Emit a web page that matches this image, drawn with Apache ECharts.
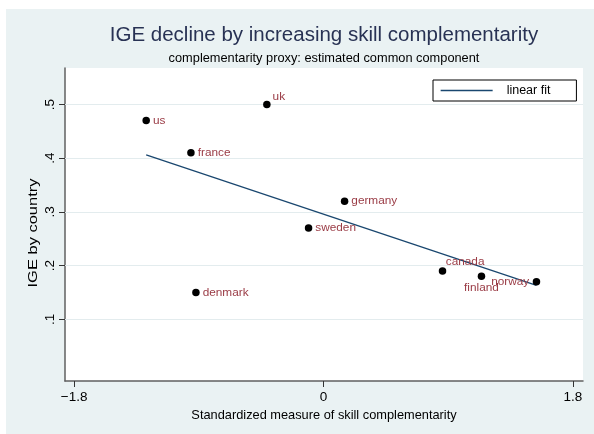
<!DOCTYPE html>
<html>
<head>
<meta charset="utf-8">
<script src="https://cdn.jsdelivr.net/npm/echarts@6/dist/echarts.min.js"></script>
<style>
  html, body { margin: 0; padding: 0; background: #fff; }
  #wrap { position: relative; width: 594px; height: 434px; }
  #back { position: absolute; left: 6px; top: 9px; right: 0; bottom: 0; background: #EAF2F3; }
  #chart { position: absolute; left: 0; top: 0; width: 594px; height: 434px; }
</style>
</head>
<body>
<div id="wrap"><div id="back"></div><div id="chart"></div></div>
<script>
// Countries, standardized skill-complementarity measure and intergenerational elasticity
const countries = ['us', 'uk', 'france', 'germany', 'sweden', 'denmark', 'canada', 'finland', 'norway'];
const complementarity = [-1.280, -0.409, -0.957, 0.152, -0.108, -0.921, 0.859, 1.140, 1.537];
const ige = [0.47, 0.50, 0.41, 0.32, 0.27, 0.15, 0.19, 0.18, 0.17];

// Endpoints of the fitted regression line
const fitX = [-1.280, 1.537];
const fitY = [0.406, 0.163];

// Axis ticks and their labels
const xTicks = [-1.8, 0, 1.8];
const xTickText = ['\u22121.8', '0', '1.8'];
const yTicks = [0.1, 0.2, 0.3, 0.4, 0.5];
const yTickText = ['.1', '.2', '.3', '.4', '.5'];

const FONT = '"Liberation Sans", Arial, Helvetica, sans-serif';
const labelColor = '#9a3b45';
const fitColor = '#1A476F';

// Label placement for marker labels that do not sit to the right
const labelPlacement = {
  uk: { position: 'right', offset: [-1, -7.5] },
  canada: { position: 'right', offset: [-3.5, -8.7] },
  finland: { position: 'bottom', offset: [0, -1.5] },
  norway: { position: 'left', distance: 3.5 }
};

function tickText(values, texts, v) {
  for (let i = 0; i < values.length; i++) {
    if (Math.abs(values[i] - v) < 1e-9) return texts[i];
  }
  return '';
}

const points = countries.map((c, i) => {
  const item = { name: c, value: [complementarity[i], ige[i]] };
  if (labelPlacement[c]) item.label = labelPlacement[c];
  return item;
});

const fitData = fitX.map((x, i) => [x, fitY[i]]);

const chart = echarts.init(document.getElementById('chart'), null, { renderer: 'canvas' });

chart.setOption({
  animation: false,
  backgroundColor: 'transparent',
  textStyle: { fontFamily: FONT },
  graphic: [
    {
      type: 'text', x: 324, y: 35, silent: true,
      style: {
        text: 'IGE decline by increasing skill complementarity',
        font: '20.5px ' + FONT, fill: '#283254',
        align: 'center', verticalAlign: 'middle',
        textAlign: 'center', textVerticalAlign: 'middle'
      }
    },
    {
      type: 'text', x: 324, y: 58, silent: true,
      style: {
        text: 'complementarity proxy: estimated common component',
        font: '12.8px ' + FONT, fill: '#000',
        align: 'center', verticalAlign: 'middle',
        textAlign: 'center', textVerticalAlign: 'middle'
      }
    },
    {
      // y axis title, widened along its reading direction
      type: 'text', x: 33, y: 233, rotation: Math.PI / 2, scaleX: 1.22, silent: true,
      style: {
        text: 'IGE by country',
        font: '13.5px ' + FONT, fill: '#000',
        align: 'center', verticalAlign: 'middle',
        textAlign: 'center', textVerticalAlign: 'middle'
      }
    }
  ],
  grid: {
    left: 65, right: 11, top: 68, bottom: 53,
    show: true, backgroundColor: '#ffffff', borderWidth: 0
  },
  legend: {
    data: ['linear fit'],
    left: 433, top: 80,
    padding: [4, 26, 4, 7],
    itemWidth: 52, itemHeight: 13,
    backgroundColor: '#ffffff',
    borderColor: '#000000', borderWidth: 1, borderRadius: 0,
    selectedMode: false,
    itemStyle: { opacity: 0 },
    lineStyle: { color: fitColor, width: 1.3, opacity: 1 },
    textStyle: { fontSize: 12.5, color: '#000', fontFamily: FONT, padding: [0, 0, 0, 9] }
  },
  xAxis: {
    type: 'value',
    min: -1.866, max: 1.873,
    name: 'Standardized measure of skill complementarity',
    nameLocation: 'middle', nameGap: 25,
    nameTextStyle: { fontSize: 12.8, color: '#000', fontFamily: FONT },
    axisLine: { show: true, onZero: false, lineStyle: { color: '#606060', width: 1.5 } },
    axisTick: { show: true, customValues: xTicks, length: 6, lineStyle: { color: '#333', width: 1 } },
    axisLabel: {
      customValues: xTicks, margin: 9, fontSize: 13.5, color: '#000', fontFamily: FONT,
      formatter: v => tickText(xTicks, xTickText, v)
    },
    splitLine: { show: false }
  },
  yAxis: {
    type: 'value',
    min: -0.015, max: 0.568,
    axisLine: { show: true, onZero: false, lineStyle: { color: '#606060', width: 1.5 } },
    axisTick: { show: true, customValues: yTicks, length: 6, lineStyle: { color: '#333', width: 1 } },
    axisLabel: {
      customValues: yTicks, rotate: 90, margin: 8, fontSize: 13.5, color: '#000', fontFamily: FONT,
      formatter: v => tickText(yTicks, yTickText, v)
    },
    splitLine: { show: false }
  },
  series: [
    {
      // horizontal grid lines at the labelled y ticks
      name: 'grid lines', type: 'line', data: [], z: 1, silent: true,
      markLine: {
        silent: true, z: 1, symbol: ['none', 'none'], label: { show: false },
        lineStyle: { color: '#E3ECEE', type: 'solid', width: 1 },
        emphasis: { disabled: true },
        data: yTicks.map(v => ({ yAxis: v }))
      }
    },
    {
      name: 'linear fit', type: 'line', data: fitData, z: 3,
      symbol: 'none', showSymbol: false,
      lineStyle: { color: fitColor, width: 1.3 },
      itemStyle: { color: fitColor }
    },
    {
      name: 'IGE by country', type: 'scatter', data: points, z: 4,
      symbol: 'circle', symbolSize: 7.5,
      itemStyle: { color: '#000', opacity: 1 },
      label: {
        show: true, position: 'right', distance: 3,
        formatter: p => p.name,
        color: labelColor, fontSize: 11.8, fontFamily: FONT
      },
      emphasis: { disabled: true }
    }
  ]
});
</script>
</body>
</html>
